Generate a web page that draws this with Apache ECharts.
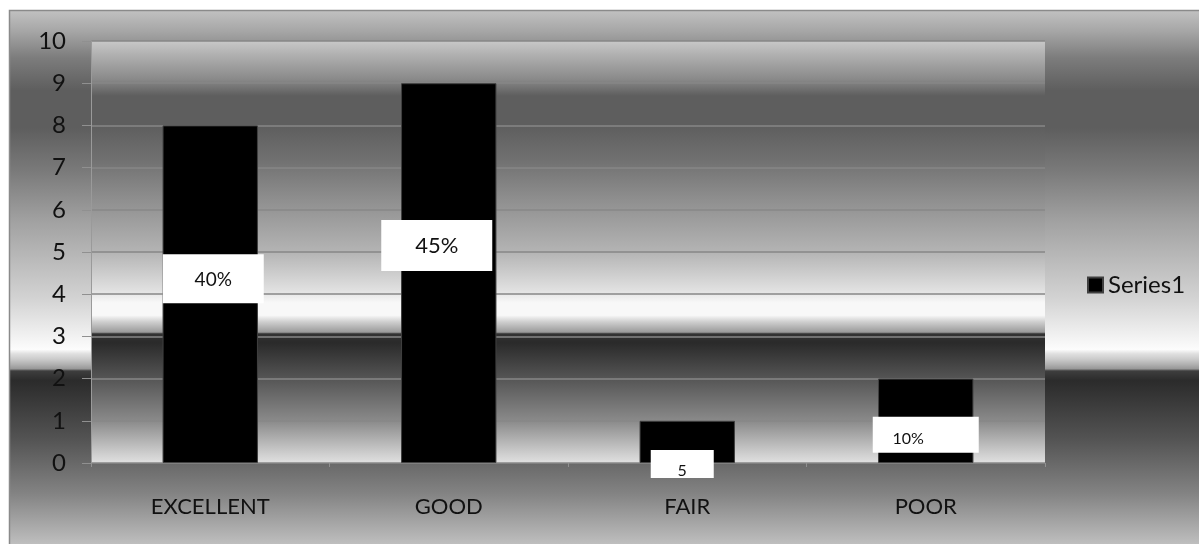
<!DOCTYPE html>
<html>
<head>
<meta charset="utf-8">
<script src="https://cdn.jsdelivr.net/npm/echarts@6/dist/echarts.min.js"></script>
<style>
  html, body { margin: 0; padding: 0; background: #fff; }
  #chart { width: 1199px; height: 544px; }
</style>
</head>
<body>
<div id="chart"></div>
<script>
// 数据
var categories = ['EXCELLENT', 'GOOD', 'FAIR', 'POOR'];
var values = [8, 9, 1, 2];
var labelTexts = ['40%', '45%', '5', '10%'];
var yTicks = [0, 10, 1]; // min, max, interval
var seriesName = 'Series1';

// 标签框样式（offset: 相对柱子中心，y 为框顶）
var labelBoxes = [
  { offset: [3, -40], width: 101, height: 49, lineHeight: 52, padding: 0, fontSize: 19 },
  { offset: [-12, -53], width: 111, height: 51, lineHeight: 51, padding: 0, fontSize: 22 },
  { offset: [-5, 8], width: 63, height: 28, lineHeight: 42, padding: 0, fontSize: 16 },
  { offset: [0, -4], width: 71, height: 36, lineHeight: 44, padding: [0, 35, 0, 0], fontSize: 16 }
];

var FONT = 'Lato, "Open Sans", sans-serif';

function chrome(stops) {
  return new echarts.graphic.LinearGradient(0, 0, 0, 1, stops.map(function (s) {
    return { offset: s[0], color: s[1] };
  }));
}

var outerFill = chrome([
  [0, '#c2c2c2'], [0.04, '#a6a6a6'], [0.09, '#7c7c7c'], [0.15, '#5e5e5e'],
  [0.22, '#5e5e5e'], [0.30, '#7a7a7a'], [0.39, '#a0a0a0'], [0.54, '#d4d4d4'],
  [0.62, '#f7f7f7'], [0.632, '#fcfcfc'], [0.64, '#e0e0e0'], [0.65, '#cbcbcb'],
  [0.66, '#b0b0b0'], [0.668, '#989898'], [0.672, '#3e3e3e'], [0.69, '#2b2b2b'],
  [0.80, '#545454'], [0.90, '#838383'], [1, '#c2c2c2']
]);

var plotFill = chrome([
  [0, '#c8c8c8'], [0.033, '#b0b0b0'], [0.09, '#8a8a8a'], [0.13, '#5e5e5e'],
  [0.20, '#5e5e5e'], [0.28, '#707070'], [0.38, '#909090'], [0.50, '#b4b4b4'],
  [0.59, '#e0e0e0'], [0.62, '#f8f8f8'], [0.65, '#f8f8f8'], [0.665, '#d0d0d0'],
  [0.69, '#9a9a9a'], [0.694, '#323232'], [0.715, '#2a2a2a'], [0.80, '#555555'],
  [0.90, '#8a8a8a'], [0.98, '#d0d0d0'], [1, '#e0e0e0']
]);

var barData = values.map(function (v, i) {
  var b = labelBoxes[i];
  return {
    value: v,
    label: {
      show: true,
      position: 'inside',
      offset: b.offset,
      align: 'center',
      verticalAlign: 'top',
      formatter: labelTexts[i],
      backgroundColor: '#ffffff',
      width: b.width,
      height: b.height,
      lineHeight: b.lineHeight,
      padding: b.padding,
      fontSize: b.fontSize,
      color: '#111',
      fontFamily: FONT
    }
  };
});

var chart = echarts.init(document.getElementById('chart'));
var option = {
  animation: false,
  graphic: [{
    type: 'rect',
    z: -10,
    shape: { x: 9.5, y: 10.5, width: 1196, height: 536 },
    style: { fill: outerFill, stroke: '#8a8a8a', lineWidth: 1.5 }
  }],
  grid: {
    left: 91, right: 154, top: 41, bottom: 81,
    show: true,
    backgroundColor: plotFill,
    borderWidth: 0
  },
  legend: {
    left: 1087, top: 273,
    padding: 0,
    icon: 'rect',
    itemWidth: 15, itemHeight: 15, itemGap: 6,
    data: [seriesName],
    textStyle: { fontSize: 24, color: '#111', fontFamily: FONT }
  },
  xAxis: {
    type: 'category',
    data: categories,
    axisLine: { lineStyle: { color: '#808080', width: 1 } },
    axisTick: { show: true, length: 4, lineStyle: { color: '#909090' } },
    axisLabel: { fontSize: 22, color: '#111', margin: 33, fontFamily: FONT }
  },
  yAxis: {
    type: 'value',
    min: yTicks[0], max: yTicks[1], interval: yTicks[2],
    axisLine: { show: true, lineStyle: { color: '#9a9a9a', width: 1 } },
    axisTick: { show: true, length: 9, lineStyle: { color: '#909090' } },
    axisLabel: { fontSize: 24, color: '#111', margin: 25, fontFamily: FONT },
    splitLine: { lineStyle: { color: '#878787', width: 1.5 } }
  },
  series: [{
    name: seriesName,
    type: 'bar',
    barWidth: '40%',
    itemStyle: { color: '#000', borderColor: '#404040', borderWidth: 1 },
    data: barData
  }]
};
chart.setOption(option);
window.addEventListener('resize', function () { chart.resize(); });
</script>
</body>
</html>
